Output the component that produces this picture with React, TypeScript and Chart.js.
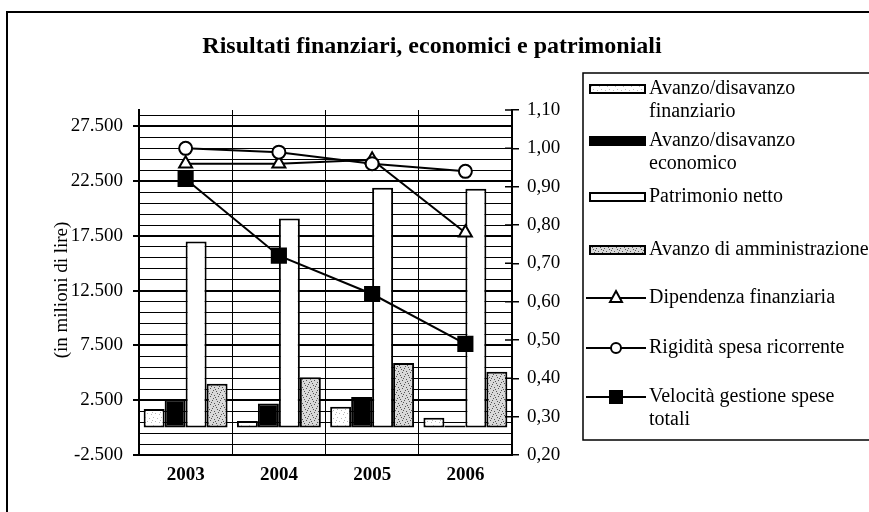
import React, { useEffect, useRef } from 'react';
import { Chart, registerables } from 'chart.js';

Chart.register(...registerables);

// ---- Data ----
const categories = ['2003', '2004', '2005', '2006'];
const avanzoFinanziario = [1700, 600, 1900, 900];
const avanzoEconomico = [2600, 2200, 2800, 200];
const patrimonioNetto = [17000, 19100, 21900, 21800];
const avanzoAmministrazione = [4000, 4600, 5900, 5100];
const dipendenzaFinanziaria = [0.96, 0.96, 0.97, 0.78];
const rigiditaSpesa = [1.0, 0.99, 0.96, 0.94];
const velocitaGestione = [0.92, 0.72, 0.62, 0.49];
const leftLabelTicks = [-2500, 2500, 7500, 12500, 17500, 22500, 27500];
const rightTicks = [0.2, 0.3, 0.4, 0.5, 0.6, 0.7, 0.8, 0.9, 1.0, 1.1];
const LEFT_MIN = -2500;
const LEFT_MAX = 29000;
const LEFT_MINOR_STEP = 1000;

const FONT = "'Liberation Serif', 'Times New Roman', 'DejaVu Serif', serif";

const fmtThousands = (v: number) => {
  const s = Math.abs(Math.round(v)).toString().replace(/\B(?=(\d{3})+(?!\d))/g, '.');
  return (v < 0 ? '-' : '') + s;
};
const fmtComma = (v: number) => v.toFixed(2).replace('.', ',');

function makePattern(base: string, dot: string, dots: number[][]) {
  const c = document.createElement('canvas');
  c.width = 8;
  c.height = 8;
  const g = c.getContext('2d')!;
  g.fillStyle = base;
  g.fillRect(0, 0, 8, 8);
  g.fillStyle = dot;
  dots.forEach(([x, y]) => g.fillRect(x, y, 1, 1));
  const ctx = document.createElement('canvas').getContext('2d')!;
  return ctx.createPattern(c, 'repeat')!;
}

const legendRowsY = [89, 141, 197, 250, 298, 348, 397];

const decorPlugin = {
  id: 'decor',
  afterDraw(chart: any) {
    const ctx = chart.ctx as CanvasRenderingContext2D;
    ctx.save();
    // outer frame (top and left edges visible)
    ctx.strokeStyle = '#000';
    ctx.lineWidth = 2;
    ctx.beginPath();
    ctx.moveTo(7, 520);
    ctx.lineTo(7, 12);
    ctx.lineTo(869, 12);
    ctx.stroke();

    // title
    ctx.fillStyle = '#000';
    ctx.font = `bold 24px ${FONT}`;
    ctx.textAlign = 'center';
    ctx.textBaseline = 'middle';
    ctx.fillText('Risultati finanziari, economici e patrimoniali', 432, 47);

    // left axis title
    ctx.save();
    ctx.translate(62, 290);
    ctx.rotate(-Math.PI / 2);
    ctx.font = `19px ${FONT}`;
    ctx.fillText('(in milioni di lire)', 0, 0);
    ctx.restore();

    // inner part of right axis ticks
    const y1 = chart.scales.y1;
    ctx.lineWidth = 1.5;
    ctx.beginPath();
    rightTicks.forEach((v) => {
      const py = y1.getPixelForValue(v);
      ctx.moveTo(y1.left - 7, py);
      ctx.lineTo(y1.left, py);
    });
    ctx.stroke();

    // legend box
    ctx.lineWidth = 1.5;
    ctx.strokeRect(583, 73, 300, 367);

    ctx.font = `20px ${FONT}`;
    ctx.textAlign = 'left';
    ctx.textBaseline = 'middle';
    chart.data.datasets.forEach((ds: any, i: number) => {
      const y = legendRowsY[i];
      const lines = String(ds.label).split('\n');
      if (ds.type === 'line') {
        ctx.strokeStyle = '#000';
        ctx.lineWidth = 2;
        ctx.beginPath();
        ctx.moveTo(586, y);
        ctx.lineTo(646, y);
        ctx.stroke();
        const cx = 616;
        ctx.fillStyle = ds.pointBackgroundColor;
        ctx.beginPath();
        if (ds.pointStyle === 'triangle') {
          ctx.moveTo(cx, y - 7);
          ctx.lineTo(cx + 6, y + 4);
          ctx.lineTo(cx - 6, y + 4);
          ctx.closePath();
        } else if (ds.pointStyle === 'circle') {
          ctx.arc(cx, y, 5, 0, Math.PI * 2);
        } else {
          ctx.rect(cx - 6, y - 6, 12, 12);
        }
        ctx.fill();
        ctx.stroke();
      } else {
        ctx.fillStyle = ds.backgroundColor;
        ctx.fillRect(590, y - 4, 55, 8);
        ctx.strokeStyle = '#000';
        ctx.lineWidth = 2;
        ctx.strokeRect(590, y - 4, 55, 8);
      }
      ctx.fillStyle = '#000';
      lines.forEach((t, k) => ctx.fillText(t, 649, y + k * 23));
    });
    ctx.restore();
  },
};

export default function App() {
  const ref = useRef<HTMLCanvasElement | null>(null);

  useEffect(() => {
    if (!ref.current) return;
    Chart.defaults.font.family = FONT;
    Chart.defaults.color = '#000';

    const lightPattern = makePattern('#ffffff', '#b8b8b8', [[1, 1], [5, 2], [3, 5], [7, 6], [0, 4]]);
    const grayPattern = makePattern('#d9d9d9', '#555555', [[1, 1], [4, 0], [6, 3], [2, 4], [5, 6], [0, 7], [3, 2], [7, 5]]);

    const barCommon = {
      type: 'bar' as const,
      yAxisID: 'y',
      borderColor: '#000',
      borderWidth: 2,
      borderSkipped: false,
      categoryPercentage: 0.9,
      barPercentage: 1.0,
      order: 10,
    };
    const lineCommon = {
      type: 'line' as const,
      yAxisID: 'y1',
      borderColor: '#000',
      borderWidth: 2,
      pointBorderColor: '#000',
      pointBorderWidth: 2,
      tension: 0,
      fill: false,
    };

    const chart = new Chart(ref.current, {
      data: {
        labels: categories,
        datasets: [
          { ...barCommon, label: 'Avanzo/disavanzo\nfinanziario', data: avanzoFinanziario, backgroundColor: lightPattern },
          { ...barCommon, label: 'Avanzo/disavanzo\neconomico', data: avanzoEconomico, backgroundColor: '#000000' },
          { ...barCommon, label: 'Patrimonio netto', data: patrimonioNetto, backgroundColor: '#ffffff' },
          { ...barCommon, label: 'Avanzo di amministrazione', data: avanzoAmministrazione, backgroundColor: grayPattern },
          { ...lineCommon, label: 'Dipendenza finanziaria', data: dipendenzaFinanziaria, pointStyle: 'triangle', pointRadius: 7.5, pointBackgroundColor: '#ffffff', order: 3 },
          { ...lineCommon, label: 'Rigidità spesa ricorrente', data: rigiditaSpesa, pointStyle: 'circle', pointRadius: 6.5, pointBackgroundColor: '#ffffff', order: 2 },
          { ...lineCommon, label: 'Velocità gestione spese\ntotali', data: velocitaGestione, pointStyle: 'rect', pointRadius: 10, pointBackgroundColor: '#000000', order: 1 },
        ] as any,
      },
      options: {
        responsive: false,
        animation: false,
        events: [],
        layout: { padding: { top: 110, left: 0, right: 0, bottom: 0 } },
        plugins: {
          legend: { display: false },
          title: { display: false },
          tooltip: { enabled: false },
        },
        scales: {
          x: {
            grid: { offset: true, color: '#000', lineWidth: 1, drawTicks: false },
            border: { color: '#000', width: 2 },
            ticks: { font: { size: 19, weight: 'bold' }, padding: 9, color: '#000' },
            afterFit: (s: any) => { s.height = 57; },
          },
          y: {
            position: 'left',
            min: LEFT_MIN,
            max: LEFT_MAX,
            afterBuildTicks: (s: any) => {
              const t: any[] = [];
              for (let v = LEFT_MIN; v < LEFT_MAX; v += LEFT_MINOR_STEP) t.push({ value: v });
              s.ticks = t;
            },
            ticks: {
              autoSkip: false,
              font: { size: 19 },
              padding: 10,
              color: '#000',
              callback: (v: any) => (leftLabelTicks.includes(Number(v)) ? fmtThousands(Number(v)) : ''),
            },
            grid: {
              color: '#000',
              lineWidth: (c: any) => (leftLabelTicks.includes(c.tick?.value) ? 2 : 1),
              tickColor: (c: any) => (leftLabelTicks.includes(c.tick?.value) ? '#000' : 'rgba(0,0,0,0)'),
              tickLength: 6,
            },
            border: { color: '#000', width: 2 },
            afterFit: (s: any) => { s.width = 139; },
          },
          y1: {
            position: 'right',
            min: 0.2,
            max: 1.1,
            afterBuildTicks: (s: any) => {
              s.ticks = rightTicks.map((v) => ({ value: v }));
            },
            ticks: {
              autoSkip: false,
              font: { size: 19 },
              padding: 8,
              color: '#000',
              callback: (v: any) => fmtComma(Number(v)),
            },
            grid: { drawOnChartArea: false, color: '#000', lineWidth: 1.5, tickLength: 7 },
            border: { color: '#000', width: 2 },
            afterFit: (s: any) => { s.width = 869 - 512; },
          },
        },
      } as any,
      plugins: [decorPlugin],
    });
    return () => chart.destroy();
  }, []);

  return (
    <div style={{ position: 'absolute', left: 0, top: 0, width: 869, height: 512, background: '#fff' }}>
      <canvas ref={ref} width={869} height={512} style={{ display: 'block' }} />
    </div>
  );
}
